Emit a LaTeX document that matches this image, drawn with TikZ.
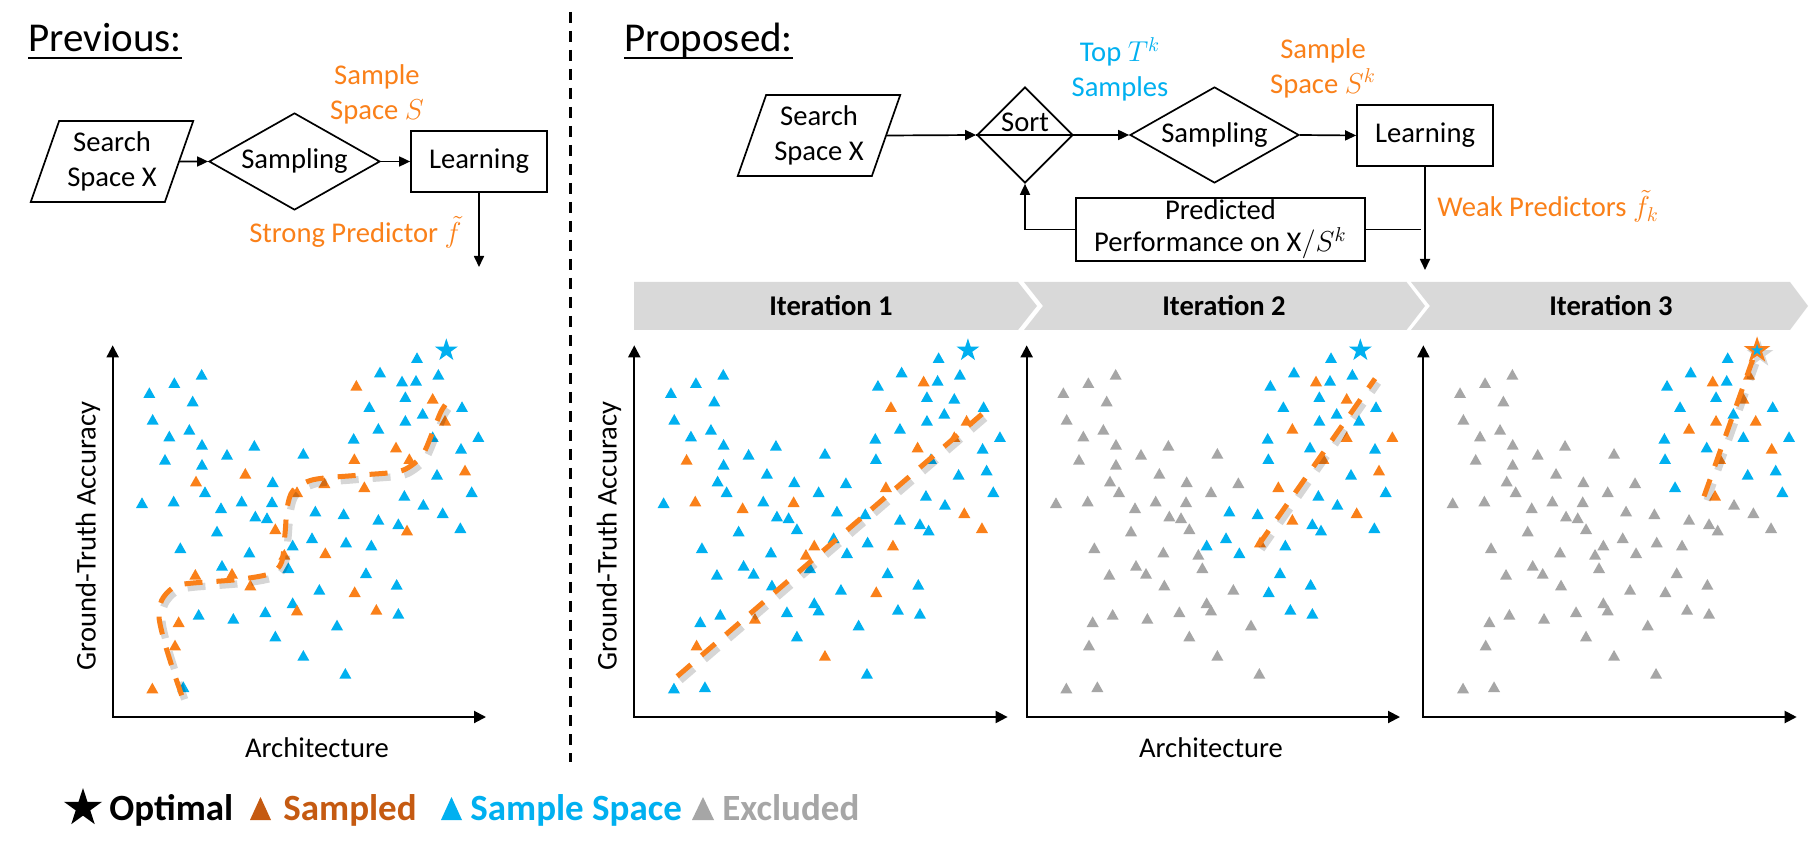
\documentclass[tikz,border=0pt]{standalone}
\usepackage{fontspec}
\setmainfont{Carlito}
\usetikzlibrary{shapes.geometric,arrows.meta}
\definecolor{cb}{RGB}{0,176,240}
\definecolor{co}{RGB}{250,128,25}
\definecolor{cg}{RGB}{166,166,166}
\definecolor{cdark}{RGB}{197,90,17}
\definecolor{bannerc}{RGB}{217,217,217}
\newcommand{\ptlist}{190/220/b/b/g/g, 265/190/b/b/g/g, 347/165/b/b/g/g, 320/245/b/b/g/g, 200/300/b/b/g/g, 310/330/b/b/g/g, 250/350/b/b/g/g, 348/375/b/b/g/g, 237/420/b/o/g/g, 348/435/b/b/g/g, 423/405/b/b/g/g, 505/378/b/b/g/g, 652/402/b/b/g/g, 478/462/o/b/g/g, 330/485/o/b/g/g, 357/517/b/b/g/g, 560/487/b/b/g/g, 715/490/o/b/g/g, 633/517/o/b/g/g, 168/550/b/b/g/g, 263/545/b/o/g/g, 405/565/b/o/g/g, 467/545/b/b/g/g, 558/547/b/o/g/g, 508/590/b/b/g/g, 543/595/b/b/g/g, 568/628/o/b/g/g, 393/635/b/b/g/g, 283/685/b/b/g/g, 595/705/o/o/g/g, 490/698/b/b/g/g, 408/738/b/b/g/g, 438/762/o/b/g/g, 328/765/o/b/g/g, 607/745/b/b/g/g, 493/797/o/b/g/g, 700/810/b/b/g/g, 620/850/b/b/g/g, 633/872/o/b/g/g, 538/877/b/b/g/g, 442/897/b/o/g/g, 338/885/b/b/g/g, 278/907/o/b/g/g, 267/977/o/o/g/g, 568/950/b/b/g/g, 753/917/b/b/g/g, 652/1008/b/o/g/g, 778/1062/b/b/g/g, 199/1106/o/b/g/g, 292/1102/b/b/g/g, 993/115/b/b/b/b, 882/158/b/b/b/b, 811/198/o/b/b/b, 990/183/b/b/b/b, 1057/165/b/b/b/o, 958/232/b/b/b/b, 850/262/b/o/b/b, 1010/282/b/b/b/b, 1128/262/b/b/b/b, 958/303/b/b/b/o, 1077/303/o/o/b/o, 803/357/b/b/b/b, 930/383/o/o/b/b, 1125/387/b/b/b/o, 805/418/o/b/b/b, 1053/465/b/b/b/b, 955/528/b/b/b/o, 1012/555/b/b/b/g, 1157/517/b/b/b/b, 688/575/b/b/b/g, 773/583/b/b/b/g, 937/613/b/b/b/g, 963/632/o/b/b/g, 1123/625/b/o/b/g, 620/677/b/o/b/g, 678/655/b/b/b/g, 718/700/o/b/b/g, 856/677/b/o/b/g, 840/760/b/b/b/g, 932/795/b/b/b/g, 806/817/o/o/b/g, 871/870/o/b/b/g, 937/882/b/b/b/g, 948/185/b/o/o/o, 1040/237/o/b/o/o, 877/327/b/b/o/o, 1040/352/b/o/o/b, 1177/352/b/b/o/b, 970/418/o/b/o/o, 1137/452/o/b/o/b, 835/502/o/o/o/b, 1070/580/b/o/o/g, 877/600/b/b/o/g, 780/668/b/b/o/g}
\newcommand{\tri}[3]{\fill[fill=#3] (#1,#2) +(0,-19) -- +(18,13) -- +(-18,13) -- cycle;}
\begin{document}
\begin{tikzpicture}[x=0.5pt, y=-0.5pt,
  every node/.style={inner sep=0pt},
  txt/.style={font=\fontsize{14.3}{17.5}\selectfont},
  ttl/.style={font=\fontsize{20.5}{24}\selectfont, anchor=base west},
  leg/.style={font=\fontsize{18.5}{22}\selectfont\bfseries, anchor=base west},
  itx/.style={font=\fontsize{14.3}{17}\selectfont\bfseries},
  ln/.style={line width=0.85pt},
  flow/.style={line width=0.85pt, -{Triangle[length=5.5pt,width=5pt]}},
  para/.style={trapezium, trapezium left angle=68, trapezium right angle=112, trapezium stretches=true, draw, line width=0.85pt, minimum width=81.5pt, minimum height=40.5pt, align=center, txt},
  dia/.style={diamond, draw, line width=0.85pt, txt, aspect=1.7},
  rbox/.style={rectangle, draw, line width=0.85pt, txt, align=center},
  axis/.style={line width=1pt, {Triangle[length=6pt,width=6pt]}-{Triangle[length=6pt,width=6pt]}},
  pstar/.style={star, star points=5, star point ratio=2.618, inner sep=0pt},
  dashc/.style={co, line width=2.5pt, dash pattern=on 9pt off 7pt},
  shad/.style={black, opacity=0.16, line width=3.6pt, dash pattern=on 9pt off 7pt},
  chev/.style={fill=bannerc}]
\useasboundingbox (0,0) rectangle (1811,855);
\fill[white] (0,0) rectangle (1811,855);

% divider
\draw[line width=1.5pt, dash pattern=on 5.5pt off 4pt] (570,12) -- (570,762);

% ---------- Previous flowchart ----------
\node[ttl] (prev) at (28,52) {Previous:};
\draw[line width=1.3pt] ([yshift=-3pt]prev.base west) -- ([yshift=-3pt]prev.base east);
\node[para] (ssx1) at (112,161.5) {Search\\Space X};
\node[dia, minimum width=85.5pt, minimum height=48.5pt] (samp1) at (294.5,161.5) {Sampling};
\node[rbox, minimum width=68pt, minimum height=30.5pt] (learn1) at (479,161.5) {Learning};
\coordinate (out1) at (479,267);
\draw[flow] (ssx1.east) -- (samp1.west);
\draw[flow] (samp1.east) -- (learn1.west);
\draw[flow] (learn1.south) -- (out1);
\node[txt, text=co, align=center] (ss1) at (377,94.5) {Sample\\Space $S$};
\node[txt, text=co, anchor=base east] (strong) at (462,243) {Strong Predictor $\tilde{f}$};

% ---------- Proposed flowchart ----------
\node[ttl] (prop) at (624,52) {Proposed:};
\draw[line width=1.3pt] ([yshift=-3pt]prop.base west) -- ([yshift=-3pt]prop.base east);
\node[para] (ssx2) at (819,135.5) {Search\\Space X};
\node[dia, minimum width=48pt, minimum height=48pt] (sort) at (1025,135) {};
\node[txt, anchor=base] (sorttxt) at (1025,132) {Sort};
\draw[ln] (sort.west) -- (sort.east);
\node[dia, minimum width=84.5pt, minimum height=48pt] (samp2) at (1214.5,135) {Sampling};
\node[rbox, minimum width=68pt, minimum height=30.5pt] (learn2) at (1425,135.5) {Learning};
\node[rbox, minimum width=144.5pt, minimum height=31.5pt, font=\fontsize{14.3}{16}\selectfont] (pred) at (1220.4,229.4) {Predicted\\Performance on $\mathrm{X}/S^{k}$};
\coordinate (out2) at (1425,270);
\coordinate (jn) at (1421,229.4);
\draw[flow] (ssx2.east) -- (sort.west);
\draw[flow] (sort.east) -- (samp2.west);
\draw[flow] (samp2.east) -- (learn2.west);
\draw[flow] (learn2.south) -- (out2);
\draw[ln] (pred.east) -- (jn);
\draw[flow] (pred.west) -| (sort.south);
\node[txt, text=cb, align=center] (topt) at (1120,69.5) {Top $T^{k}$\\Samples};
\node[txt, text=co, align=center] (ss2) at (1323,68) {Sample\\Space $S^{k}$};
\node[txt, text=co, anchor=base west] (weak) at (1437,217) {Weak Predictors $\tilde{f}_{k}$};

% ---------- banner ----------
\fill[chev] (634,282) -- (1018,282) -- (1037,306) -- (1018,330) -- (634,330) -- cycle;
\fill[chev] (1024,282) -- (1406.5,282) -- (1425,306) -- (1406.5,330) -- (1024,330) -- (1043,306) -- cycle;
\fill[chev] (1411,282) -- (1790,282) -- (1808,306) -- (1790,330) -- (1411,330) -- (1430,306) -- cycle;
\node[itx] (it1) at (831,306) {Iteration 1};
\node[itx] (it2) at (1224,306) {Iteration 2};
\node[itx] (it3) at (1611,306) {Iteration 3};

% ---------- axis labels ----------
\node[txt, rotate=90] (gt1) at (88,536) {Ground-Truth Accuracy};
\node[txt, rotate=90] (gt2) at (609,536) {Ground-Truth Accuracy};
\node[txt] (ar1) at (317,748) {Architecture};
\node[txt] (ar2) at (1211,748) {Architecture};

% ---------- plot: previous ----------
\begin{scope}[shift={(86,320.33)}, x=0.166667pt, y=-0.166667pt]
  \draw[axis] (80,75) -- (80,1190) -- (1200,1190);
  \foreach \x/\y/\a/\b/\c/\d in \ptlist {\tri{\x}{\y}{c\a}}
  \node[pstar, fill=cb, minimum size=12pt] (star0) at (1081,90) {};
  \begin{scope}[shift={(9,12)}]
    \draw[shad] plot[smooth, tension=0.5] coordinates {(287,1125) (260,1045) (234,960) (219,890) (227,840) (257,805) (302,790) (452,778) (552,760) (587,725) (597,640) (604,560) (622,510) (682,478) (812,465) (932,455) (977,435) (1012,400) (1042,330) (1067,270) (1097,228)};
  \end{scope}
  \draw[dashc] plot[smooth, tension=0.5] coordinates {(287,1125) (260,1045) (234,960) (219,890) (227,840) (257,805) (302,790) (452,778) (552,760) (587,725) (597,640) (604,560) (622,510) (682,478) (812,465) (932,455) (977,435) (1012,400) (1042,330) (1067,270) (1097,228)};
\end{scope}

% ---------- plot: iteration 1 ----------
\begin{scope}[shift={(607.6,320.33)}, x=0.166667pt, y=-0.166667pt]
  \draw[axis] (80,75) -- (80,1190) -- (1200,1190);
  \foreach \x/\y/\a/\b/\c/\d in \ptlist {\tri{\x}{\y}{c\b}}
  \node[pstar, fill=cb, minimum size=12pt] (star1) at (1081,90) {};
  \begin{scope}[shift={(9,12)}]
    \draw[shad] (209,1068) -- (1142,265);
  \end{scope}
  \draw[dashc] (209,1068) -- (1142,265);
\end{scope}

% ---------- plot: iteration 2 ----------
\begin{scope}[shift={(1000,320.33)}, x=0.166667pt, y=-0.166667pt]
  \draw[axis] (80,75) -- (80,1190) -- (1200,1190);
  \foreach \x/\y/\a/\b/\c/\d in \ptlist {\tri{\x}{\y}{c\c}}
  \node[pstar, fill=cb, minimum size=12pt] (star2) at (1081,90) {};
  \begin{scope}[shift={(9,12)}]
    \draw[shad] (775,675) -- (1125,175);
  \end{scope}
  \draw[dashc] (775,675) -- (1125,175);
\end{scope}

% ---------- plot: iteration 3 ----------
\begin{scope}[shift={(1396.7,320.33)}, x=0.166667pt, y=-0.166667pt]
  \draw[axis] (80,75) -- (80,1190) -- (1200,1190);
  \foreach \x/\y/\a/\b/\c/\d in \ptlist {\tri{\x}{\y}{c\d}}
  \begin{scope}[shift={(9,12)}]
    \draw[shad] (922,528) -- (1068,118);
    \node[pstar, fill=black, opacity=0.16, minimum size=14pt] (star3s) at (1081,90) {};
  \end{scope}
  \draw[dashc] (922,528) -- (1068,118);
  \node[pstar, fill=co, minimum size=14pt] (star3) at (1081,90) {};
  \node[pstar, fill=cb, minimum size=6.5pt] (star3i) at (1081,90) {};
\end{scope}

% ---------- legend ----------
\node[pstar, fill=black, minimum size=20pt] (lstar) at (83,808) {};
\node[leg] (lopt) at (109,820) {Optimal};
\fill[cdark] (260.5,797) -- (271,820) -- (250,820) -- cycle;
\node[leg, text=cdark] (lsam) at (283,820) {Sampled};
\fill[cb] (451.5,797) -- (462,820) -- (441,820) -- cycle;
\node[leg, text=cb] (lspc) at (470,820) {Sample Space};
\fill[cg] (703,797) -- (714,820) -- (692,820) -- cycle;
\node[leg, text=cg] (lexc) at (722,820) {Excluded};
\end{tikzpicture}
\end{document}
